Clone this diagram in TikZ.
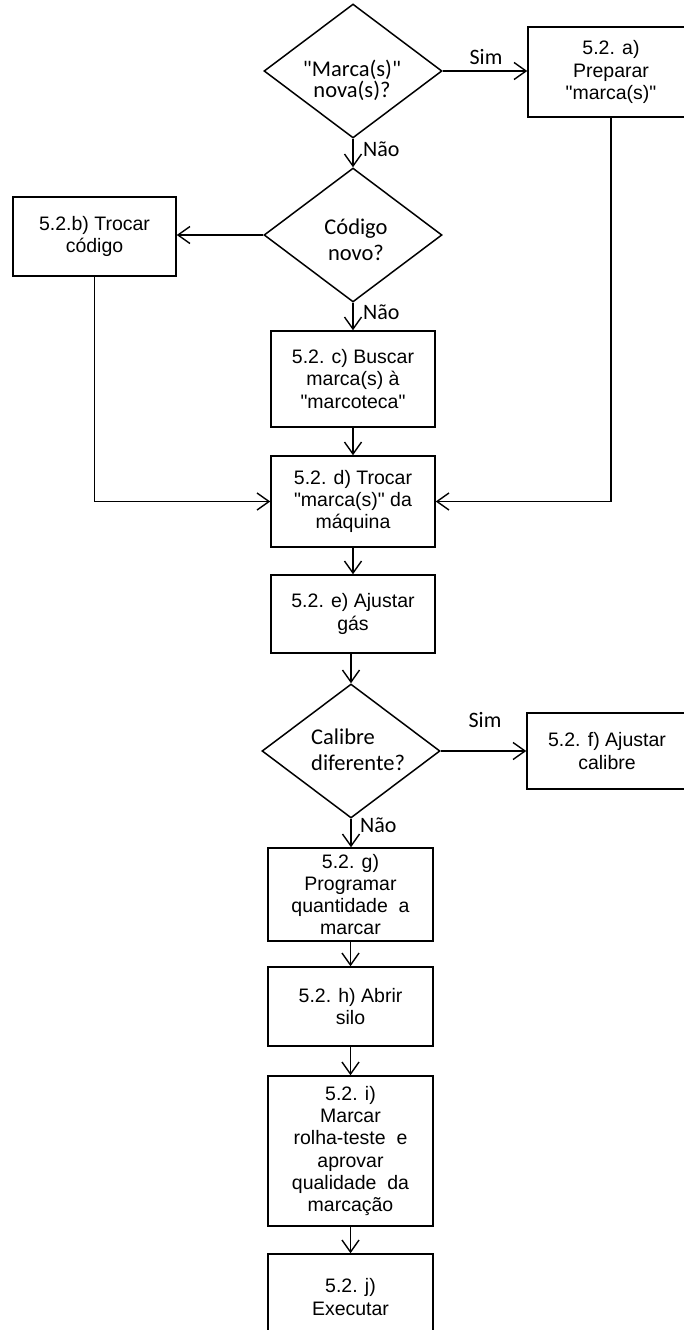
\documentclass[tikz,border=0pt]{standalone}
\usepackage{fontspec}
\setmainfont{Liberation Sans}[Ligatures=TeXOff]
\newfontfamily\calfont{Carlito}[Ligatures=TeXOff]
\usetikzlibrary{arrows.meta,shapes.geometric}
\begin{document}
\begin{tikzpicture}[x=1pt,y=-1pt,
  flow/.style={line width=1.5pt, draw=black},
  arr/.style={flow, -{Straight Barb[length=12pt,width=17pt,line width=1.4pt]}},
  stepbox/.style={draw, line width=1.5pt, inner sep=0pt, align=center,
    font=\fontsize{19.5}{22.3}\selectfont},
  decision/.style={draw, line width=1.5pt, diamond, inner sep=0pt,
    minimum width=178pt, minimum height=134pt, aspect=1.33},
  dectext/.style={inner sep=0pt, align=center, font=\calfont\fontsize{22.5}{25.5}\selectfont},
  answer/.style={inner sep=0pt, font=\calfont\fontsize{22}{25}\selectfont},
]
\useasboundingbox (0,0) rectangle (684,1330);
\clip (0,0) rectangle (684,1330);

% decisions
\node[decision] (d1) at (353,71) {};
\node[dectext, font=\calfont\fontsize{22.5}{21}\selectfont] (d1t) at (352,80) {"Marca(s)"\\nova(s)?};
\node[decision] (d2) at (353,235) {};
\node[dectext] (d2t) at (356,240) {Código\\novo?};
\node[decision] (d3) at (351,751) {};
\node[dectext, anchor=west, align=left] (d3t) at (311,750) {Calibre\\diferente?};

% process steps
\node[stepbox, minimum width=166pt, minimum height=90pt] (a) at (611,72)
  {5.2. a)\\Preparar\\"marca(s)"};
\node[stepbox, minimum width=163pt, minimum height=79pt] (b) at (94.5,236.5)
  {5.2.b) Trocar\\código};
\node[stepbox, minimum width=164pt, minimum height=96pt] (c) at (353,379)
  {5.2. c) Buscar\\marca(s) à\\"marcoteca"};
\node[stepbox, minimum width=164pt, minimum height=91pt] (d) at (353,501.5)
  {5.2. d) Trocar\\"marca(s)" da\\máquina};
\node[stepbox, minimum width=164pt, minimum height=78pt] (e) at (353,614)
  {5.2. e) Ajustar\\gás};
\node[stepbox, minimum width=160pt, minimum height=76pt] (f) at (607,751)
  {5.2. f) Ajustar\\calibre};
\node[stepbox, minimum width=165pt, minimum height=93pt] (g) at (350.5,894.5)
  {5.2. g)\\Programar\\quantidade\ \ a\\marcar};
\node[stepbox, minimum width=165pt, minimum height=79pt] (h) at (350.5,1006.5)
  {5.2. h) Abrir\\silo};
\node[stepbox, minimum width=165pt, minimum height=150pt] (i) at (350.5,1151)
  {5.2. i)\\Marcar\\rolha-teste\ \ e\\aprovar\\qualidade\ \ da\\marcação};
\node[stepbox, minimum width=165pt, minimum height=86pt] (j) at (350.5,1297)
  {5.2. j)\\Executar};

% answers
\node[answer, anchor=base] (s1) at (486,65) {Sim};
\node[answer, anchor=base west] (n1) at (363,156) {Não};
\node[answer, anchor=base west] (n2) at (363,319) {Não};
\node[answer, anchor=base] (s2) at (485,727) {Sim};
\node[answer, anchor=base west] (n3) at (360,832) {Não};

% connectors
\draw[arr] (d1.east) -- (d1.east -| a.west);
\draw[arr] (d1.south) -- (d1.south |- d2.north);
\draw[arr] (d2.west) -- (d2.west -| b.east);
\draw[arr] (d2.south) -- (d2.south |- c.north);
\draw[arr] (c.south) -- (d.north);
\draw[arr] (b.south) |- (d.west);
\draw[arr] (a.south) |- (d.east);
\draw[arr] (d.south) -- (e.north);
\draw[arr] (d3.north |- e.south) -- (d3.north);
\draw[arr] (d3.east) -- (d3.east -| f.west);
\draw[arr] (d3.south) -- (d3.south |- g.north);
\draw[arr] (g.south) -- (h.north);
\draw[arr] (h.south) -- (i.north);
\draw[arr] (i.south) -- (j.north);
\end{tikzpicture}
\end{document}
